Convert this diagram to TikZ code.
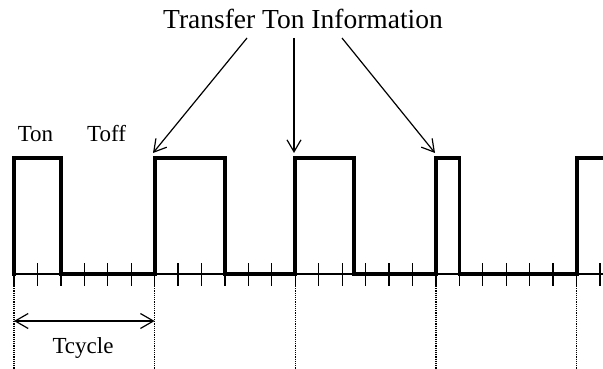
\documentclass[tikz,border=0pt]{standalone}
\usepackage{fontspec}
\setmainfont{Liberation Serif}
\usetikzlibrary{arrows.meta}
\begin{document}
\begin{tikzpicture}[x=1pt,y=-1pt,
  signal/.style={line width=3.8pt, line join=miter, line cap=rect},
  axisline/.style={line width=1.3pt},
  tickmark/.style={line width=1.3pt},
  guide/.style={line width=1.2pt, dash pattern=on 1.2pt off 1.0pt},
  pointer/.style={line width=1.2pt, -{Straight Barb[length=12pt,width=14pt,line width=1.2pt]}},
  span/.style={line width=1.2pt, {Straight Barb[length=13pt,width=15pt,line width=1.2pt]}-{Straight Barb[length=13pt,width=15pt,line width=1.2pt]}},
  lbl/.style={font=\fontsize{23}{26}\selectfont, inner sep=0pt, anchor=base},
  ttl/.style={font=\fontsize{27.5}{30}\selectfont, inner sep=0pt, anchor=base}]
\useasboundingbox (0,0) rectangle (603,369);
% axis
\draw[axisline] (14,274) -- (603,274);
\foreach \k in {0,...,25} {
  \draw[tickmark] ({14+23.44*\k},263) -- ({14+23.44*\k},286);
}
% dotted cycle guides
\foreach \k in {0,6,12,18,24} {
  \draw[guide] ({14+23.44*\k},286) -- ({14+23.44*\k},369);
}
% signal
\draw[signal] (14,274) -- (14,158) -- (60.9,158) -- (60.9,274) -- (154.6,274) -- (154.6,158)
  -- (225,158) -- (225,274) -- (295.3,274) -- (295.3,158) -- (353.9,158) -- (353.9,274)
  -- (435.9,274) -- (435.9,158) -- (459.4,158) -- (459.4,274) -- (576.6,274) -- (576.6,158) -- (605,158);
% labels
\node[lbl] (ton) at (35.5,142) {Ton};
\node[lbl] (toff) at (106.5,142) {Toff};
\node[ttl] (title) at (303,29) {Transfer Ton Information};
\node[lbl] (tcycle) at (83,353) {Tcycle};
% transfer arrows
\coordinate (s1) at (247,38);
\coordinate (s2) at (294,38);
\coordinate (s3) at (342,38);
\coordinate (e1) at (153,153);
\coordinate (e2) at (294,153);
\coordinate (e3) at (435,153);
\draw[pointer] (s1) -- (e1);
\draw[pointer] (s2) -- (e2);
\draw[pointer] (s3) -- (e3);
% Tcycle span
\coordinate (c0) at (14,321);
\coordinate (c1) at (154.6,321);
\draw[span] (c0) -- (c1);
\end{tikzpicture}
\end{document}
